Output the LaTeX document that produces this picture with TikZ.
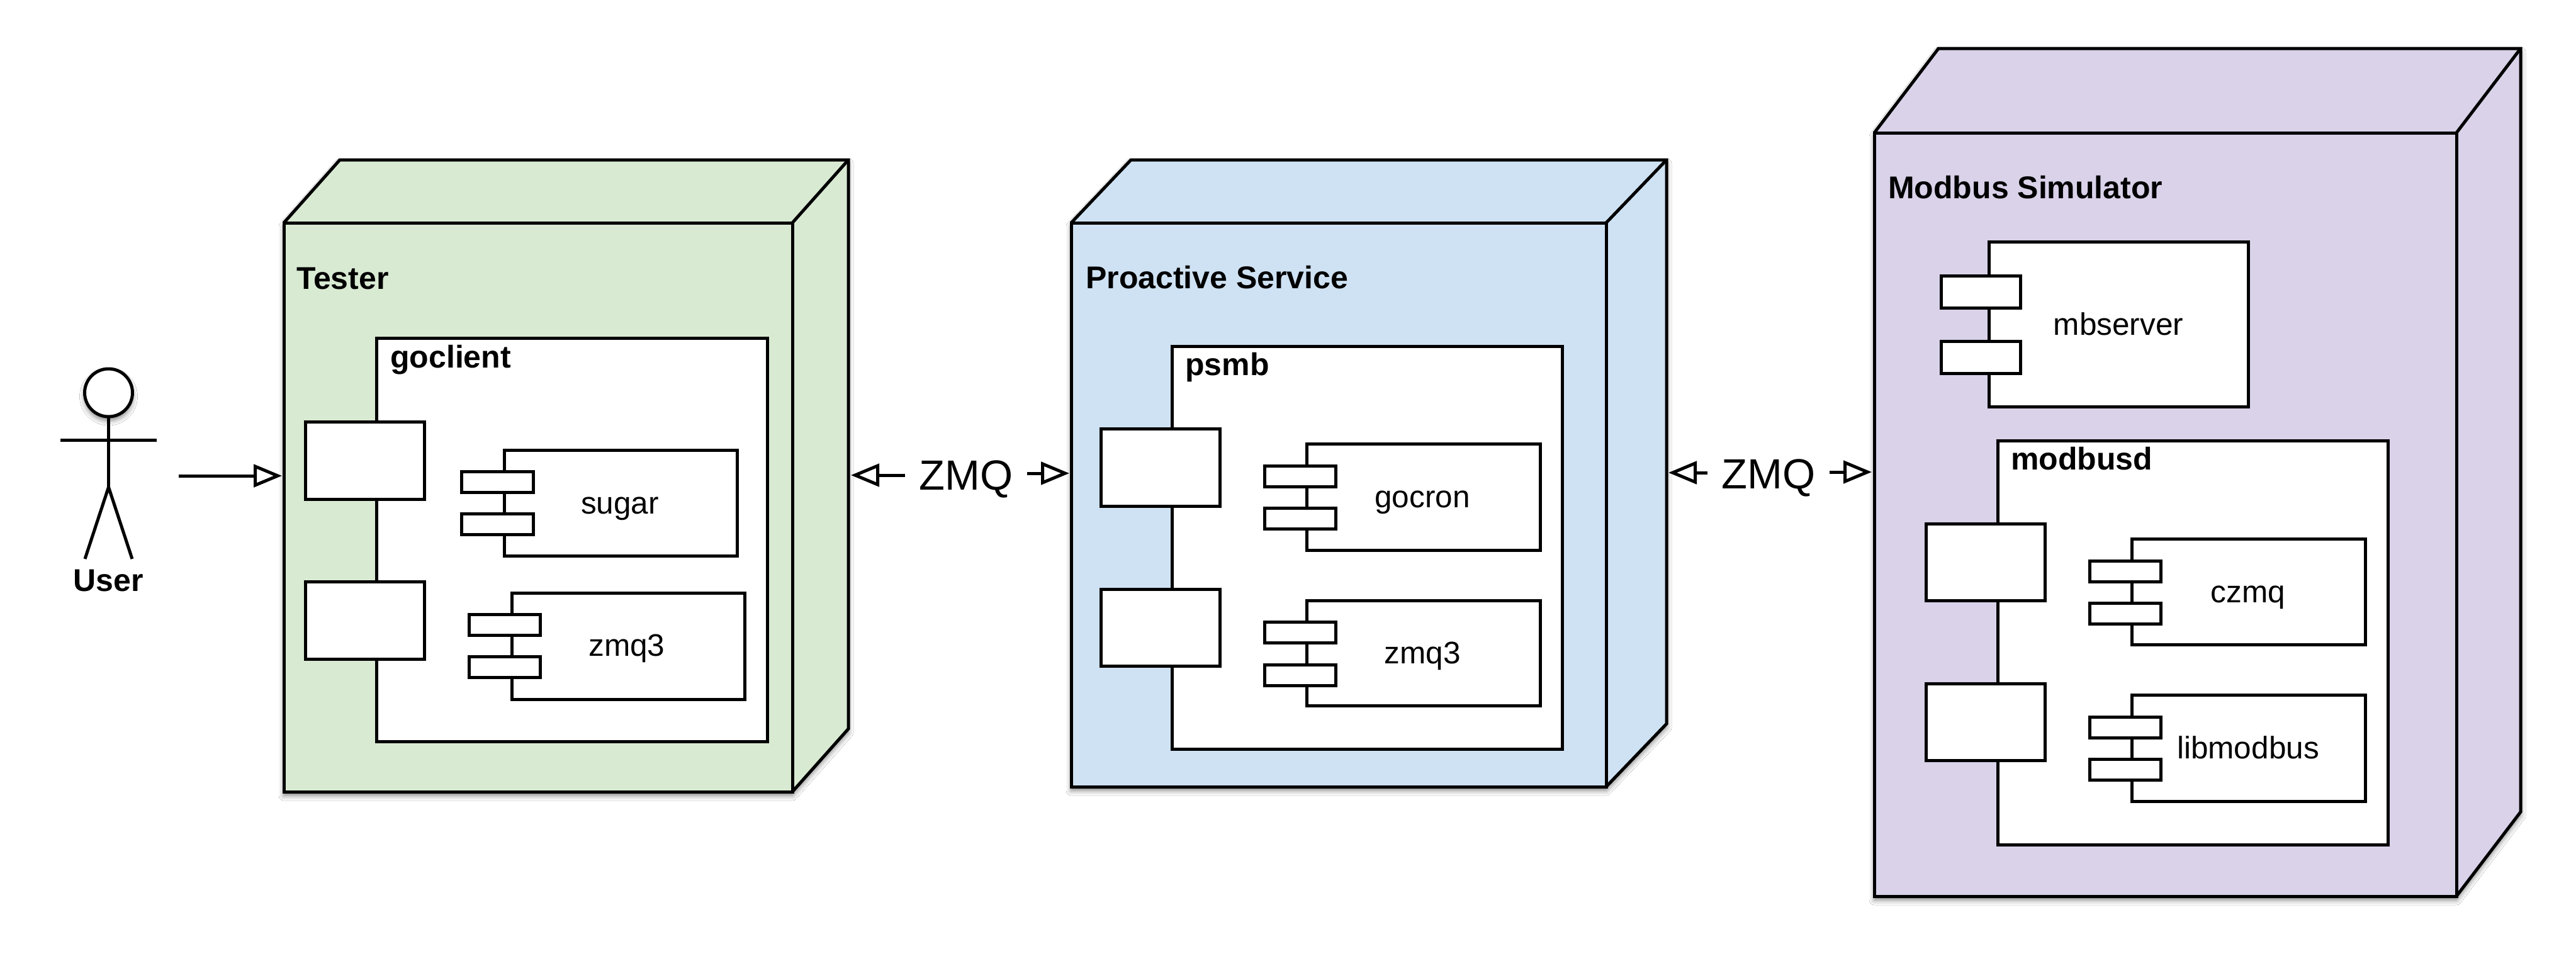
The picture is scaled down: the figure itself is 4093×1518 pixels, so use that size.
\documentclass[tikz,border=0pt]{standalone}
\usepackage{fontspec}
\setmainfont{Liberation Sans}
\usetikzlibrary{arrows.meta,shadows.blur}
\definecolor{nodegreen}{HTML}{D9EAD3}
\definecolor{nodeblue}{HTML}{CFE2F3}
\definecolor{nodepurple}{HTML}{D9D2E9}
\tikzset{
  ln/.style={line width=5pt,line join=miter,black},
  softshadow/.style={blur shadow={shadow xshift=0pt,shadow yshift=-6pt,shadow blur radius=8pt,shadow opacity=50}},
  bxs/.style={ln,draw,fill=white,inner sep=0pt,outer sep=0pt,rectangle},
  title/.style={font=\fontsize{50}{60}\selectfont\bfseries,anchor=base west,inner sep=0pt},
  compname/.style={font=\fontsize{49.5}{60}\selectfont,anchor=base,inner sep=0pt},
  zmqlabel/.style={font=\fontsize{67}{78}\selectfont,anchor=base,inner xsep=22pt,inner ysep=0pt},
  conn/.style={line width=5pt,-{Triangle[open,length=45pt,width=36pt,line width=5pt]}},
}
\newcommand{\bx}[6][]{%
  \pgfmathsetmacro{\bxw}{#5-#3}\pgfmathsetmacro{\bxh}{#6-#4}%
  \pgfmathsetmacro{\bxcx}{(#3+#5)/2}\pgfmathsetmacro{\bxcy}{(#4+#6)/2}%
  \node[bxs,minimum width=\bxw pt,minimum height=\bxh pt,#1] (#2) at (\bxcx,\bxcy) {};}
% name, colour, front x1,y1,x2,y2, back left x, back top y, back right x
\newcommand{\cube}[9]{%
  \pgfmathsetmacro{\sideb}{#6-(#4-#8)}%
  \path[softshadow,fill=#2] (#3,#4) -- (#7,#8) -- (#9,#8) -- (#9,\sideb) -- (#5,#6) -- (#3,#6) -- cycle;
  \draw[ln] (#3,#4) -- (#7,#8) -- (#9,#8) -- (#9,\sideb) -- (#5,#6);
  \draw[ln] (#5,#4) -- (#9,#8);
  \bx[fill=#2]{#1}{#3}{#4}{#5}{#6}}
\newcommand{\tabh}{33}
% name, body x1,y1,x2,y2, tab x1,x2, first tab top y, second tab top y
\newcommand{\comp}[9]{%
  \bx{#1}{#2}{#3}{#4}{#5}%
  \pgfmathsetmacro{\tbb}{#8+\tabh}\pgfmathsetmacro{\tcb}{#9+\tabh}%
  \bx{#1t1}{#6}{#8}{#7}{\tbb}%
  \bx{#1t2}{#6}{#9}{#7}{\tcb}}
\begin{document}
\begin{tikzpicture}[x=1pt,y=-1pt]
\fill[white] (0,0) rectangle (4093,1518);
\useasboundingbox (0,0) rectangle (4093,1518);

% --- User
\node[ln,draw,circle,fill=white,minimum size=76pt,inner sep=0pt,outer sep=0pt,softshadow] (head) at (172.5,624) {};
\coordinate (armL) at (96,699);
\coordinate (armR) at (249,699);
\coordinate (hip) at (172.5,774);
\coordinate (footL) at (135,888);
\coordinate (footR) at (210,888);
\draw[ln] (head.south) -- (hip);
\draw[ln] (armL) -- (armR);
\draw[ln] (footL) -- (hip) -- (footR);
\node[title,anchor=base] (user) at (172,939) {User};

% --- Tester
\cube{tester}{nodegreen}{451}{354}{1259}{1258}{540}{254}{1348}
\node[title] (testerT) at (471,459) {Tester};
\bx{goclient}{598}{537}{1219}{1178}
\node[title] (goclientT) at (620,584) {goclient};
\bx{tp1}{485}{670}{674}{793}
\bx{tp2}{485}{924}{674}{1047}
\comp{sugar}{801}{715}{1171}{883}{733}{847}{749}{816}
\node[compname] (sugarT) at (985,816) {sugar};
\comp{tzmq}{813}{942}{1183}{1111}{745}{858}{976}{1043}
\node[compname] (tzmqT) at (996,1042) {zmq3};

% --- Proactive Service
\cube{proactive}{nodeblue}{1702}{354}{2552}{1250}{1797}{254}{2648}
\node[title] (proactiveT) at (1725,458) {Proactive Service};
\bx{psmb}{1862}{550}{2482}{1190}
\node[title] (psmbT) at (1883,596) {psmb};
\bx{pp1}{1749}{681}{1938}{804}
\bx{pp2}{1749}{936}{1938}{1058}
\comp{gocron}{2076}{705}{2447}{874}{2009}{2122}{740}{807}
\node[compname] (gocronT) at (2260,806) {gocron};
\comp{pzmq}{2076}{954}{2447}{1121}{2009}{2122}{988}{1056}
\node[compname] (pzmqT) at (2260,1054) {zmq3};

% --- Modbus Simulator
\cube{modbus}{nodepurple}{2978}{211}{3903}{1424}{3080}{77}{4005}
\node[title] (modbusT) at (3000,315.5) {Modbus Simulator};
\renewcommand{\tabh}{51}
\comp{mbserver}{3160}{384}{3572}{646}{3084}{3210}{438}{542}
\renewcommand{\tabh}{33}
\node[compname] (mbserverT) at (3366,532) {mbserver};
\bx{modbusd}{3174}{700}{3794}{1342}
\node[title] (modbusdT) at (3195,746) {modbusd};
\bx{mp1}{3060}{832}{3249}{954}
\bx{mp2}{3060}{1086}{3249}{1208}
\comp{czmq}{3387}{856}{3758}{1024}{3320}{3433}{891}{958}
\node[compname] (czmqT) at (3572,957) {czmq};
\comp{libmodbus}{3387}{1104}{3758}{1273}{3320}{3433}{1139}{1206}
\node[compname] (libmodbusT) at (3572,1205) {libmodbus};

% --- Connectors
\coordinate (userOut) at (284,756);
\coordinate (testerIn) at (448,756);
\draw[conn] (userOut) -- (testerIn);
\node[zmqlabel] (zmqa) at (1535,778) {ZMQ};
\node[zmqlabel] (zmqb) at (2810,776) {ZMQ};
\coordinate (tipa1) at (1352,755);
\coordinate (tipa2) at (1699,752);
\coordinate (tipb1) at (2651,751);
\coordinate (tipb2) at (2974,750);
\draw[conn] (zmqa.west |- tipa1) -- (tipa1);
\draw[conn] (zmqa.east |- tipa2) -- (tipa2);
\draw[conn] (zmqb.west |- tipb1) -- (tipb1);
\draw[conn] (zmqb.east |- tipb2) -- (tipb2);
\end{tikzpicture}
\end{document}
